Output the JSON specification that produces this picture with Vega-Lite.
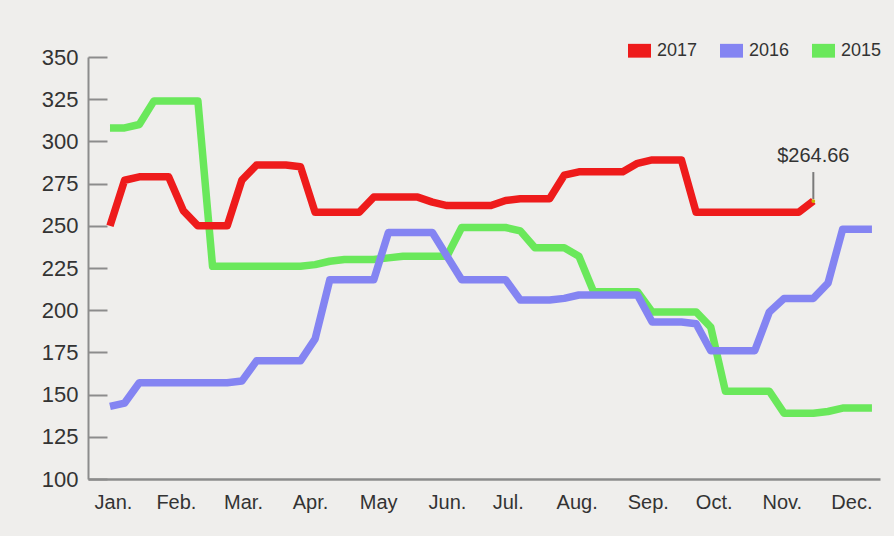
{
  "$schema": "https://vega.github.io/schema/vega-lite/v6.json",
  "width": 792,
  "height": 422,
  "autosize": {"type": "none"},
  "padding": {"left": 88, "top": 57, "right": 14, "bottom": 57},
  "background": "#efeeec",
  "config": {"view": {"stroke": null}, "font": "Liberation Sans"},
  "datasets": {
    "prices": [
      {"year": "2015", "week": 0, "price": 308}, {"year": "2015", "week": 1, "price": 308}, {"year": "2015", "week": 2, "price": 310}, {"year": "2015", "week": 3, "price": 324}, {"year": "2015", "week": 4, "price": 324}, {"year": "2015", "week": 5, "price": 324}, {"year": "2015", "week": 6, "price": 324}, {"year": "2015", "week": 7, "price": 226}, {"year": "2015", "week": 8, "price": 226}, {"year": "2015", "week": 9, "price": 226}, {"year": "2015", "week": 10, "price": 226}, {"year": "2015", "week": 11, "price": 226}, {"year": "2015", "week": 12, "price": 226}, {"year": "2015", "week": 13, "price": 226}, {"year": "2015", "week": 14, "price": 227}, {"year": "2015", "week": 15, "price": 229}, {"year": "2015", "week": 16, "price": 230}, {"year": "2015", "week": 17, "price": 230}, {"year": "2015", "week": 18, "price": 230}, {"year": "2015", "week": 19, "price": 231}, {"year": "2015", "week": 20, "price": 232}, {"year": "2015", "week": 21, "price": 232}, {"year": "2015", "week": 22, "price": 232}, {"year": "2015", "week": 23, "price": 232}, {"year": "2015", "week": 24, "price": 249}, {"year": "2015", "week": 25, "price": 249}, {"year": "2015", "week": 26, "price": 249}, {"year": "2015", "week": 27, "price": 249}, {"year": "2015", "week": 28, "price": 247}, {"year": "2015", "week": 29, "price": 237}, {"year": "2015", "week": 30, "price": 237}, {"year": "2015", "week": 31, "price": 237}, {"year": "2015", "week": 32, "price": 232}, {"year": "2015", "week": 33, "price": 211}, {"year": "2015", "week": 34, "price": 211}, {"year": "2015", "week": 35, "price": 211}, {"year": "2015", "week": 36, "price": 211}, {"year": "2015", "week": 37, "price": 199}, {"year": "2015", "week": 38, "price": 199}, {"year": "2015", "week": 39, "price": 199}, {"year": "2015", "week": 40, "price": 199}, {"year": "2015", "week": 41, "price": 190}, {"year": "2015", "week": 42, "price": 152}, {"year": "2015", "week": 43, "price": 152}, {"year": "2015", "week": 44, "price": 152}, {"year": "2015", "week": 45, "price": 152}, {"year": "2015", "week": 46, "price": 139}, {"year": "2015", "week": 47, "price": 139}, {"year": "2015", "week": 48, "price": 139}, {"year": "2015", "week": 49, "price": 140}, {"year": "2015", "week": 50, "price": 142}, {"year": "2015", "week": 51, "price": 142}, {"year": "2015", "week": 52, "price": 142},
      {"year": "2016", "week": 0, "price": 143}, {"year": "2016", "week": 1, "price": 145}, {"year": "2016", "week": 2, "price": 157}, {"year": "2016", "week": 3, "price": 157}, {"year": "2016", "week": 4, "price": 157}, {"year": "2016", "week": 5, "price": 157}, {"year": "2016", "week": 6, "price": 157}, {"year": "2016", "week": 7, "price": 157}, {"year": "2016", "week": 8, "price": 157}, {"year": "2016", "week": 9, "price": 158}, {"year": "2016", "week": 10, "price": 170}, {"year": "2016", "week": 11, "price": 170}, {"year": "2016", "week": 12, "price": 170}, {"year": "2016", "week": 13, "price": 170}, {"year": "2016", "week": 14, "price": 183}, {"year": "2016", "week": 15, "price": 218}, {"year": "2016", "week": 16, "price": 218}, {"year": "2016", "week": 17, "price": 218}, {"year": "2016", "week": 18, "price": 218}, {"year": "2016", "week": 19, "price": 246}, {"year": "2016", "week": 20, "price": 246}, {"year": "2016", "week": 21, "price": 246}, {"year": "2016", "week": 22, "price": 246}, {"year": "2016", "week": 23, "price": 232}, {"year": "2016", "week": 24, "price": 218}, {"year": "2016", "week": 25, "price": 218}, {"year": "2016", "week": 26, "price": 218}, {"year": "2016", "week": 27, "price": 218}, {"year": "2016", "week": 28, "price": 206}, {"year": "2016", "week": 29, "price": 206}, {"year": "2016", "week": 30, "price": 206}, {"year": "2016", "week": 31, "price": 207}, {"year": "2016", "week": 32, "price": 209}, {"year": "2016", "week": 33, "price": 209}, {"year": "2016", "week": 34, "price": 209}, {"year": "2016", "week": 35, "price": 209}, {"year": "2016", "week": 36, "price": 209}, {"year": "2016", "week": 37, "price": 193}, {"year": "2016", "week": 38, "price": 193}, {"year": "2016", "week": 39, "price": 193}, {"year": "2016", "week": 40, "price": 192}, {"year": "2016", "week": 41, "price": 176}, {"year": "2016", "week": 42, "price": 176}, {"year": "2016", "week": 43, "price": 176}, {"year": "2016", "week": 44, "price": 176}, {"year": "2016", "week": 45, "price": 199}, {"year": "2016", "week": 46, "price": 207}, {"year": "2016", "week": 47, "price": 207}, {"year": "2016", "week": 48, "price": 207}, {"year": "2016", "week": 49, "price": 216}, {"year": "2016", "week": 50, "price": 248}, {"year": "2016", "week": 51, "price": 248}, {"year": "2016", "week": 52, "price": 248},
      {"year": "2017", "week": 0, "price": 250}, {"year": "2017", "week": 1, "price": 277}, {"year": "2017", "week": 2, "price": 279}, {"year": "2017", "week": 3, "price": 279}, {"year": "2017", "week": 4, "price": 279}, {"year": "2017", "week": 5, "price": 259}, {"year": "2017", "week": 6, "price": 250}, {"year": "2017", "week": 7, "price": 250}, {"year": "2017", "week": 8, "price": 250}, {"year": "2017", "week": 9, "price": 277}, {"year": "2017", "week": 10, "price": 286}, {"year": "2017", "week": 11, "price": 286}, {"year": "2017", "week": 12, "price": 286}, {"year": "2017", "week": 13, "price": 285}, {"year": "2017", "week": 14, "price": 258}, {"year": "2017", "week": 15, "price": 258}, {"year": "2017", "week": 16, "price": 258}, {"year": "2017", "week": 17, "price": 258}, {"year": "2017", "week": 18, "price": 267}, {"year": "2017", "week": 19, "price": 267}, {"year": "2017", "week": 20, "price": 267}, {"year": "2017", "week": 21, "price": 267}, {"year": "2017", "week": 22, "price": 264}, {"year": "2017", "week": 23, "price": 262}, {"year": "2017", "week": 24, "price": 262}, {"year": "2017", "week": 25, "price": 262}, {"year": "2017", "week": 26, "price": 262}, {"year": "2017", "week": 27, "price": 265}, {"year": "2017", "week": 28, "price": 266}, {"year": "2017", "week": 29, "price": 266}, {"year": "2017", "week": 30, "price": 266}, {"year": "2017", "week": 31, "price": 280}, {"year": "2017", "week": 32, "price": 282}, {"year": "2017", "week": 33, "price": 282}, {"year": "2017", "week": 34, "price": 282}, {"year": "2017", "week": 35, "price": 282}, {"year": "2017", "week": 36, "price": 287}, {"year": "2017", "week": 37, "price": 289}, {"year": "2017", "week": 38, "price": 289}, {"year": "2017", "week": 39, "price": 289}, {"year": "2017", "week": 40, "price": 258}, {"year": "2017", "week": 41, "price": 258}, {"year": "2017", "week": 42, "price": 258}, {"year": "2017", "week": 43, "price": 258}, {"year": "2017", "week": 44, "price": 258}, {"year": "2017", "week": 45, "price": 258}, {"year": "2017", "week": 46, "price": 258}, {"year": "2017", "week": 47, "price": 258}, {"year": "2017", "week": 48, "price": 264.66}
    ],
    "last": [
      {"week": 48, "price": 264.66, "label": "$264.66"}
    ]
  },
  "encoding": {
    "x": {
      "field": "week",
      "type": "quantitative",
      "scale": {"domain": [-1.5, 52.55], "nice": false, "zero": false},
      "axis": {
        "title": null,
        "grid": false,
        "ticks": false,
        "values": [0.2, 4.5, 9.08, 13.65, 18.3, 23.0, 27.15, 31.85, 36.7, 41.2, 45.85, 50.6],
        "labelExpr": "datum.value < 2 ? 'Jan.' : datum.value < 7 ? 'Feb.' : datum.value < 11 ? 'Mar.' : datum.value < 16 ? 'Apr.' : datum.value < 20 ? 'May' : datum.value < 25 ? 'Jun.' : datum.value < 29 ? 'Jul.' : datum.value < 34 ? 'Aug.' : datum.value < 39 ? 'Sep.' : datum.value < 43 ? 'Oct.' : datum.value < 48 ? 'Nov.' : 'Dec.'",
        "labelFlush": false,
        "labelOverlap": false,
        "labelFontSize": 20,
        "labelColor": "#333333",
        "labelPadding": 13,
        "domainColor": "#8c8c8c",
        "domainWidth": 2.5
      }
    },
    "y": {
      "field": "price",
      "type": "quantitative",
      "scale": {"domain": [100, 350], "nice": false, "zero": false},
      "axis": {
        "title": null,
        "grid": false,
        "values": [100, 125, 150, 175, 200, 225, 250, 275, 300, 325, 350],
        "tickSize": -19,
        "tickColor": "#8c8c8c",
        "tickWidth": 2,
        "labelPadding": 29,
        "labelFontSize": 22,
        "labelColor": "#333333",
        "labelOverlap": false,
        "labelFlush": false,
        "domainColor": "#8c8c8c",
        "domainWidth": 2
      }
    }
  },
  "layer": [
    {
      "data": {"name": "prices"},
      "mark": {"type": "line", "strokeWidth": 7.5, "strokeJoin": "round", "strokeCap": "butt"},
      "encoding": {
        "color": {
          "field": "year",
          "type": "nominal",
          "scale": {"domain": ["2017", "2016", "2015"], "range": ["#ee1b1b", "#8484f2", "#6ae85b"]},
          "legend": {
            "orient": "none",
            "legendX": 540,
            "legendY": -18,
            "direction": "horizontal",
            "title": null,
            "padding": 0,
            "symbolType": "M-1,-0.6H1V0.6H-1Z",
            "symbolSize": 529,
            "symbolStrokeWidth": 0,
            "labelFontSize": 18,
            "labelColor": "#333333",
            "labelOffset": 6,
            "columnPadding": 22,
            "encode": {
              "symbols": {
                "update": {
                  "fill": {"scale": "color", "field": "value"},
                  "stroke": {"value": "transparent"}
                }
              }
            }
          }
        }
      }
    },
    {
      "data": {"name": "last"},
      "mark": {"type": "rule", "color": "#7a7a7a", "strokeWidth": 2, "yOffset": -2, "y2Offset": -29},
      "encoding": {"y2": {"field": "price"}}
    },
    {
      "data": {"name": "last"},
      "mark": {"type": "point", "filled": true, "fill": "#c9b800", "size": 14, "strokeWidth": 0, "opacity": 1},
      "encoding": {}
    },
    {
      "data": {"name": "last"},
      "mark": {"type": "text", "fontSize": 20, "color": "#333333", "dy": -39, "baseline": "alphabetic", "align": "center"},
      "encoding": {"text": {"field": "label"}}
    }
  ]
}
